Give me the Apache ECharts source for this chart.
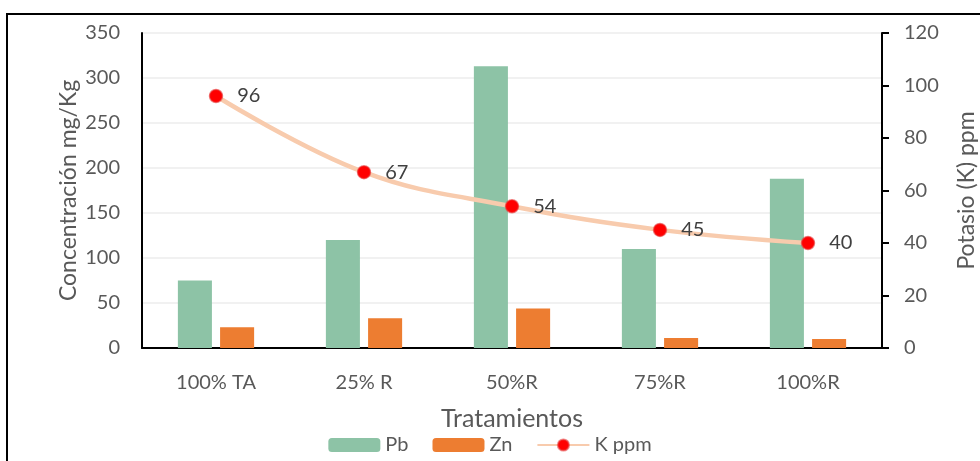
<!DOCTYPE html>
<html>
<head>
<meta charset="utf-8">
<script src="https://cdn.jsdelivr.net/npm/echarts@6/dist/echarts.min.js"></script>
<style>
  html, body { margin: 0; padding: 0; background: #fff; }
  #chart { width: 980px; height: 461px; }
</style>
</head>
<body>
<div id="chart"></div>
<script>
// Treatments and measured concentrations
const categories = ['100% TA', '25% R', '50%R', '75%R', '100%R'];
const pbValues = [75, 120, 313, 110, 188];
const znValues = [23, 33, 44, 11, 10];
const kValues = [96, 67, 54, 45, 40];
const leftTicks = { min: 0, max: 350, interval: 50 };
const rightTicks = { min: 0, max: 120, interval: 20 };

const FONT = 'Lato, "Open Sans", sans-serif';
const chart = echarts.init(document.getElementById('chart'), null, { renderer: 'canvas' });

chart.setOption({
  animation: false,
  textStyle: { fontFamily: FONT },
  graphic: [{
    type: 'rect',
    shape: { x: 7, y: 14, width: 990, height: 470 },
    style: { fill: 'none', stroke: '#000', lineWidth: 2 },
    silent: true
  }],
  grid: { left: 142, right: 98, top: 33, bottom: 113, outerBoundsMode: 'none', containLabel: false },
  legend: {
    bottom: 1,
    left: 'center',
    itemWidth: 52,
    itemHeight: 14,
    itemGap: 24,
    textStyle: { fontSize: 20, color: '#595959', fontFamily: FONT },
    data: ['Pb', 'Zn', 'K ppm']
  },
  xAxis: {
    type: 'category',
    data: categories,
    name: 'Tratamientos',
    nameLocation: 'middle',
    nameGap: 58,
    nameMoveOverlap: false,
    nameTextStyle: { fontSize: 25, color: '#595959' },
    axisLine: { lineStyle: { color: '#000', width: 2 } },
    axisTick: { show: false },
    axisLabel: { fontSize: 20, color: '#595959', margin: 25 }
  },
  yAxis: [{
    type: 'value',
    min: leftTicks.min, max: leftTicks.max, interval: leftTicks.interval,
    name: 'Concentración mg/Kg',
    nameLocation: 'middle',
    nameGap: 62,
    nameMoveOverlap: false,
    nameTextStyle: { fontSize: 23, color: '#595959' },
    axisLine: { show: true, lineStyle: { color: '#000', width: 2 } },
    axisTick: { show: false },
    axisLabel: { fontSize: 20, color: '#595959', margin: 22 },
    splitLine: { lineStyle: { color: '#EDEDED', width: 1.5 } }
  }, {
    type: 'value',
    position: 'right',
    min: rightTicks.min, max: rightTicks.max, interval: rightTicks.interval,
    name: 'Potasio (K) ppm',
    nameLocation: 'middle',
    nameGap: 73,
    nameRotate: 90,
    nameMoveOverlap: false,
    nameTextStyle: { fontSize: 23, color: '#595959' },
    axisLine: { show: true, lineStyle: { color: '#000', width: 2 } },
    axisTick: { show: true, length: 7, lineStyle: { color: '#000', width: 2 } },
    axisLabel: { fontSize: 20, color: '#595959', margin: 22 },
    splitLine: { show: false }
  }],
  series: [{
    name: 'Pb',
    type: 'bar',
    data: pbValues,
    barWidth: '23%',
    barGap: '24%',
    itemStyle: { color: '#8DC3A6' }
  }, {
    name: 'Zn',
    type: 'bar',
    data: znValues,
    barWidth: '23%',
    itemStyle: { color: '#ED7D31' }
  }, {
    name: 'K ppm',
    type: 'line',
    yAxisIndex: 1,
    data: kValues,
    smooth: 0.4,
    symbol: 'circle',
    symbolSize: 13,
    lineStyle: { color: '#F8CBAD', width: 4.5 },
    itemStyle: { color: '#FF0000', borderColor: 'rgba(230,60,60,0.6)', borderWidth: 1.5 },
    label: {
      show: true,
      position: 'right',
      distance: 14,
      fontSize: 20,
      color: '#404040'
    },
    z: 5
  }]
});
</script>
</body>
</html>
